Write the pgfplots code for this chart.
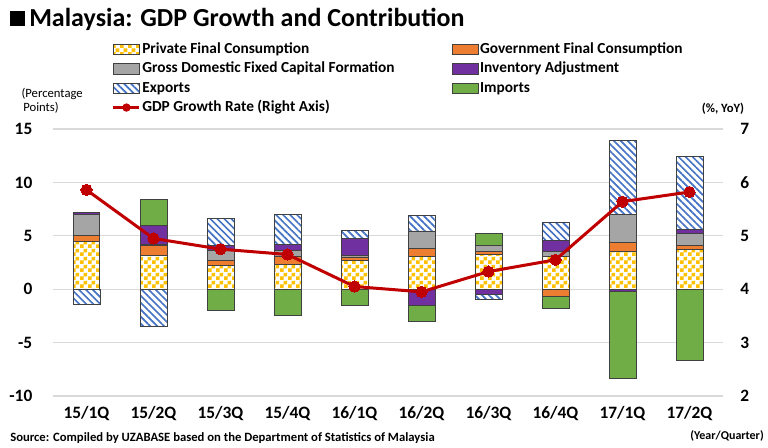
\documentclass[border=0pt]{standalone}
\usepackage{fontspec}
\setmainfont{Carlito}
\usepackage{pgfplots}
\pgfplotsset{compat=1.18}
\usepackage{pgfplotstable}
\usetikzlibrary{patterns.meta}

\definecolor{cyel}{HTML}{FFC000}
\definecolor{corange}{HTML}{ED7D31}
\definecolor{cgrey}{HTML}{A5A5A5}
\definecolor{cpurple}{HTML}{7030A0}
\definecolor{cblue}{HTML}{4472C4}
\definecolor{cgreen}{HTML}{70AD47}
\definecolor{cred}{HTML}{C00000}
\definecolor{cgrid}{HTML}{D9D9D9}
\definecolor{cedge}{HTML}{404040}

\pgfdeclarepattern{
  name=bigchecker,
  type=uncolored,
  bottom left={\pgfpointorigin},
  top right={\pgfpoint{6pt}{6pt}},
  tile size={\pgfpoint{6pt}{6pt}},
  code={
    \pgfpathrectangle{\pgfpointorigin}{\pgfpoint{3pt}{3pt}}
    \pgfpathrectangle{\pgfpoint{3pt}{3pt}}{\pgfpoint{3pt}{3pt}}
    \pgfusepath{fill}
  }
}

\pgfplotstableread{
x private gov gfcf inv exp imp gdp
0 4.50 0.50 2.00 0.15 -1.43 0.00 5.86
1 3.20 0.93 0.10 1.70 -3.44 2.45 4.95
2 2.20 0.50 0.96 0.47 2.50 -2.03 4.75
3 2.35 0.69 0.62 0.57 2.75 -2.50 4.65
4 2.72 0.30 0.10 1.65 0.70 -1.56 4.05
5 3.10 0.72 1.63 -1.50 1.43 -1.56 3.95
6 3.28 0.28 0.53 -0.50 -0.47 1.10 4.33
7 3.03 -0.72 0.53 1.00 1.72 -1.09 4.55
8 3.56 0.81 2.63 -0.25 6.90 -8.12 5.64
9 3.72 0.34 1.16 0.40 6.84 -6.65 5.82
}\data

\pgfplotsset{
  base/.style={
    scale only axis, width=502.5pt, height=200.25pt,
    at={(39.75pt,39pt)}, anchor=south west,
    xmin=-0.5, xmax=9.5,
    axis line style={draw=none},
    major tick style={draw=none},
    tick label style={font=\fontsize{13}{15}\selectfont\bfseries},
    /pgf/number format/assume math mode=true,
  },
  bars/.style={
    base, ymin=-10, ymax=15,
    ybar stacked, bar width=0.4,
    every axis plot/.append style={draw=cedge, line width=0.6pt},
  },
  sPriv/.style={preaction={fill=white}, pattern=bigchecker, pattern color=cyel},
  sGov/.style={fill=corange},
  sGfcf/.style={fill=cgrey},
  sInv/.style={fill=cpurple},
  sExp/.style={preaction={fill=white}, pattern={Lines[angle=-45,distance=3.7pt,line width=1.25pt]}, pattern color=cblue},
  sImp/.style={fill=cgreen},
}

\begin{document}
\begin{tikzpicture}
\path[use as bounding box] (0,0) rectangle (576pt,336pt);

% positive parts
\begin{axis}[bars,
  ymajorgrids, grid style={cgrid, line width=1pt},
  ytick={-10,-5,0,5,10,15},
  yticklabel style={anchor=east, xshift=-12pt},
  xtick=data,
  xticklabels={15/1Q,15/2Q,15/3Q,15/4Q,16/1Q,16/2Q,16/3Q,16/4Q,17/1Q,17/2Q},
  xticklabel style={anchor=north, yshift=-4.5pt},
  legend columns=2,
  legend cell align=left,
  legend image code/.code={\draw[#1] (0pt,-3.9pt) rectangle (19.5pt,3.9pt);},
  legend style={draw=none, fill=none, inner sep=0pt, outer sep=0pt,
    at={(0.088,1.330)}, anchor=north west,
    font=\fontsize{11.5}{13}\selectfont\bfseries,
    nodes={inner sep=1pt, text height=8.5pt, text depth=2.5pt},
    row sep=1.5pt,
    /tikz/every odd column/.append style={column sep=0pt},
    /tikz/every even column/.append style={column sep=42pt}},
]
\addplot[sPriv] table[x=x, y expr={max(\thisrow{private},0)}] {\data};
\addlegendentry{Private Final Consumption}
\addplot[sGov] table[x=x, y expr={max(\thisrow{gov},0)}] {\data};
\addlegendentry{Government Final Consumption}
\addplot[sGfcf] table[x=x, y expr={max(\thisrow{gfcf},0)}] {\data};
\addlegendentry{Gross Domestic Fixed Capital Formation}
\addplot[sInv] table[x=x, y expr={max(\thisrow{inv},0)}] {\data};
\addlegendentry{Inventory Adjustment}
\addplot[sExp] table[x=x, y expr={max(\thisrow{exp},0)}] {\data};
\addlegendentry{Exports}
\addplot[sImp] table[x=x, y expr={max(\thisrow{imp},0)}] {\data};
\addlegendentry{Imports}
\addlegendimage{legend image code/.code={\draw[cred, line width=2.25pt] (0pt,0pt) -- (19.5pt,0pt); \fill[cred] (9.75pt,0pt) circle (2.8pt);}}
\addlegendentry{GDP Growth Rate (Right Axis)}
\end{axis}

% negative parts
\begin{axis}[bars, xtick=\empty, ytick=\empty]
\addplot[sPriv] table[x=x, y expr={min(\thisrow{private},0)}] {\data};
\addplot[sGov] table[x=x, y expr={min(\thisrow{gov},0)}] {\data};
\addplot[sGfcf] table[x=x, y expr={min(\thisrow{gfcf},0)}] {\data};
\addplot[sInv] table[x=x, y expr={min(\thisrow{inv},0)}] {\data};
\addplot[sExp] table[x=x, y expr={min(\thisrow{exp},0)}] {\data};
\addplot[sImp] table[x=x, y expr={min(\thisrow{imp},0)}] {\data};
\end{axis}

% GDP growth line (right axis)
\begin{axis}[base, ymin=2, ymax=7, ytick={2,3,4,5,6,7},
  axis y line*=right, axis x line=none, xtick=\empty,
  yticklabel style={anchor=west, xshift=9.5pt}]
\addplot[cred, line width=2.25pt, mark=*, mark size=4.2pt,
  mark options={fill=cred, draw=cred, line width=0pt}] table[x=x, y=gdp] {\data};
\end{axis}

% texts
\node[anchor=west, inner sep=0pt] at (7pt,321.5pt)
  {\fontsize{19.5}{22}\selectfont\bfseries \rule[0pt]{11.5pt}{11.5pt}\,Malaysia: GDP Growth and Contribution};
\node[anchor=west, inner sep=0pt, align=left, font=\fontsize{9.5}{11}\selectfont] at (16pt,260.5pt)
  {(Percentage\\\hspace*{1.3pt}Points)};
\node[inner sep=0pt, font=\fontsize{9.5}{11}\selectfont\bfseries] at (542.25pt,254.25pt) {(\%, YoY)};
\node[anchor=east, inner sep=0pt, font=\fontsize{9}{11}\selectfont\bfseries] at (573pt,9pt) {(Year/Quarter)};
\node[anchor=west, inner sep=0pt, font=\fontsize{9.5}{11}\selectfont\bfseries] at (7.5pt,7.5pt)
  {Source: Compiled by UZABASE based on the Department of Statistics of Malaysia};
\end{tikzpicture}
\end{document}
